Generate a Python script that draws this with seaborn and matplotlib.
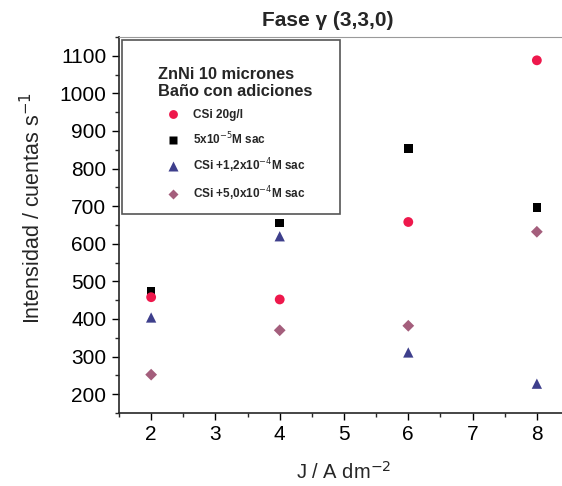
import numpy as np
import matplotlib
matplotlib.use('Agg')
import matplotlib.pyplot as plt
from matplotlib.patches import Rectangle
from matplotlib.ticker import MultipleLocator
import pandas as pd
import seaborn as sns

# Data
current = [2, 4, 6, 8]
series_names = ['CSi 20g/l',
                r'5x10$^{-5}$M sac',
                r'CSi +1,2x10$^{-4}$M sac',
                r'CSi +5,0x10$^{-4}$M sac']
csi_20 = [458, 452, 658, 1088]
sac_5e5 = [474, 655, 854, 697]
csi_sac_12e4 = [404, 620, 311, 228]
csi_sac_50e4 = [252, 370, 382, 632]

colors = {series_names[0]: '#ee184c', series_names[1]: '#000000',
          series_names[2]: '#3e3f8c', series_names[3]: '#a45e7c'}
markers = {series_names[0]: 'o', series_names[1]: 's',
           series_names[2]: '^', series_names[3]: 'D'}
sizes = {series_names[0]: 50, series_names[1]: 38,
         series_names[2]: 55, series_names[3]: 36}

# drawing order: black squares below the red circles
df = pd.DataFrame({
    'J': current * 4,
    'I': sac_5e5 + csi_20 + csi_sac_12e4 + csi_sac_50e4,
    'serie': np.repeat([series_names[1], series_names[0],
                        series_names[2], series_names[3]], len(current)),
})

sns.set_style("ticks")
plt.rcParams['font.family'] = ['Liberation Sans', 'DejaVu Sans']

fig = plt.figure(figsize=(5.62, 4.86), dpi=100)
ax = fig.add_axes([119 / 562, 1 - 413 / 486, 450 / 562, 376 / 486])

sns.scatterplot(data=df, x='J', y='I', hue='serie', style='serie',
                size='serie', hue_order=series_names,
                style_order=series_names, size_order=series_names,
                palette=colors, markers=markers, sizes=sizes,
                edgecolor='none', ax=ax, legend=True)

ax.set_xlim(1.5, 8.5)
ax.set_ylim(150, 1150)
ax.xaxis.set_major_locator(MultipleLocator(1))
ax.xaxis.set_minor_locator(MultipleLocator(0.5))
ax.yaxis.set_major_locator(MultipleLocator(100))
ax.yaxis.set_minor_locator(MultipleLocator(50))
ax.tick_params(which='major', direction='out', length=5, width=1,
               labelsize=15, colors='k', pad=4)
ax.tick_params(which='minor', direction='out', length=3, width=1)

ax.spines['left'].set_linewidth(1.2)
ax.spines['bottom'].set_linewidth(1.2)
ax.spines['top'].set_color('#9a9a9a')
ax.spines['right'].set_visible(False)

ax.set_xlabel(r'J / A dm$^{-2}$', fontsize=14.5)
ax.xaxis.set_label_coords((344 - 119) / 450, (413 - 461) / 376)
ax.set_ylabel(r'Intensidad / cuentas s$^{-1}$', fontsize=15.5)
ax.yaxis.set_label_coords((45 - 119) / 450, (413 - 208) / 376)
ax.set_title('Fase γ (3,3,0)', fontsize=15, fontweight='bold', pad=8,
             x=(328 - 119) / 450)

# legend box drawn separately so the padding can be uneven as in the original
box = Rectangle((3 / 450, (413 - 214) / 376), 218 / 450, 174 / 376,
                transform=ax.transAxes, facecolor='white',
                edgecolor='#555555', linewidth=1.2, zorder=4)
ax.add_patch(box)

handles, labels = ax.get_legend_handles_labels()
leg = ax.legend(handles, labels,
                title='ZnNi 10 micrones\nBaño con adiciones',
                loc='upper left',
                bbox_to_anchor=((158 - 119) / 450, (413 - 67) / 376),
                borderaxespad=0, borderpad=0, frameon=False,
                prop={'size': 8.5, 'weight': 'bold'},
                title_fontproperties={'size': 11.8, 'weight': 'bold'},
                labelspacing=0.8, handlelength=2.5, handletextpad=0.45,
                markerscale=0.9)
leg._legend_box.align = 'left'
leg.set_zorder(5)

fig.savefig('out.png', dpi=100)
